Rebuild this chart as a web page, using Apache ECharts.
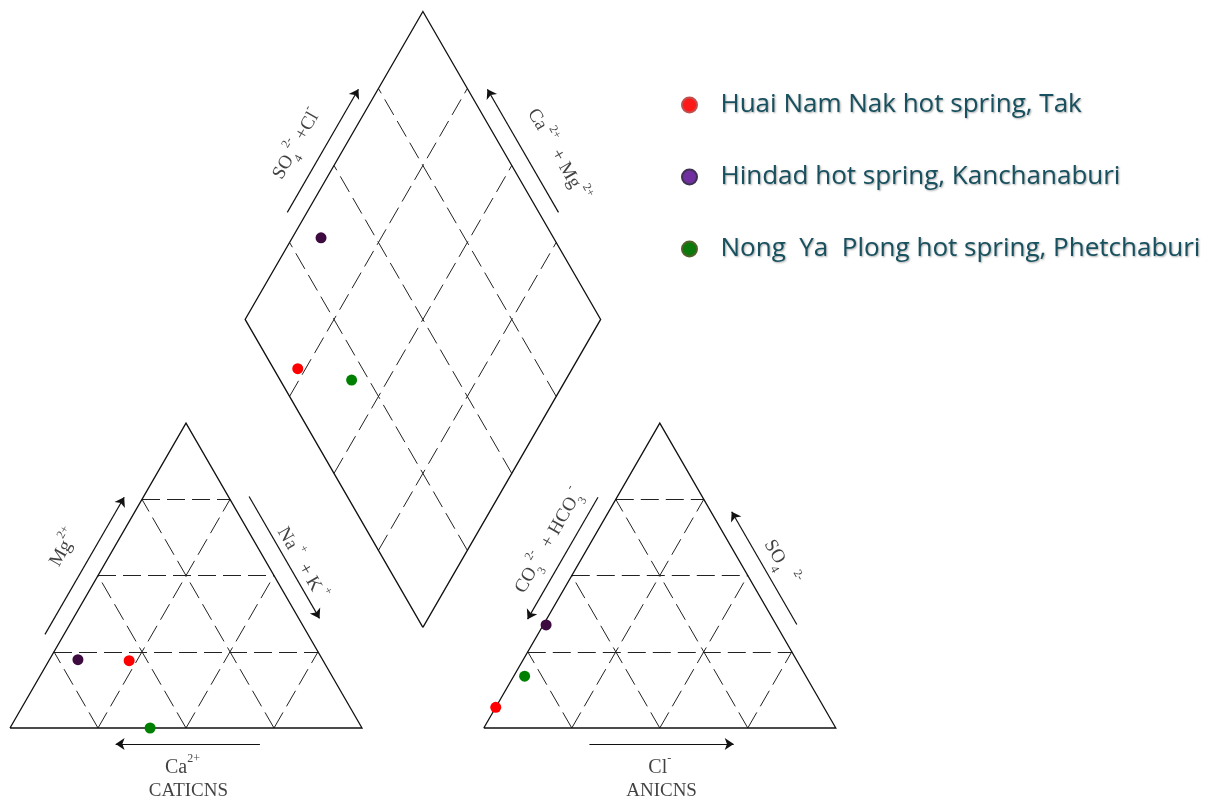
<!DOCTYPE html>
<html>
<head>
<meta charset="utf-8">
<script src="https://cdn.jsdelivr.net/npm/echarts@6/dist/echarts.min.js"></script>
<style>
  html, body { margin: 0; padding: 0; background: #ffffff; }
  #chart { width: 1215px; height: 803px; }
</style>
</head>
<body>
<div id="chart"></div>
<script>
// Sample names and ion shares (% of meq) for the Piper plot
const springs = [
  'Huai Nam Nak hot spring, Tak',
  'Hindad hot spring, Kanchanaburi',
  'Nong  Ya  Plong hot spring, Phetchaburi'
];
const caPct   = [55.1, 69.5, 60.2];
const mgPct   = [22.1, 22.4, 0.0];
const naKPct  = [22.8, 8.1, 39.8];
const hco3Pct = [93.2, 65.4, 79.9];
const so4Pct  = [6.8, 33.8, 17.0];
const clPct   = [0.0, 0.8, 3.1];
const gridTicks = [25, 50, 75];

const markerColors = ['#ff0000', '#3d0b40', '#008000'];
const legendFill   = ['#ff1a1a', '#7030a0', '#0b7a0b'];
const legendBorder = ['#c0504d', '#3f3151', '#4f6228'];

// ---- geometry (units: triangle side = 100) ----
const SQ = Math.sqrt(3) / 2;
const H = 100 * SQ;
const GAP = 34.6;
const DS = 101;                  // diamond side
const PX = 3.52;                 // pixels per unit on both axes
const X_MAX = 300, Y_MAX = 205;

const lerp = (p, q, t) => [p[0] + (q[0] - p[0]) * t, p[1] + (q[1] - p[1]) * t];
const tri = o => ({ A: o, B: [o[0] + 100, o[1]], C: [o[0] + 50, o[1] + H] });
const cat = tri([0, 0]);
const an = tri([100 + GAP, 0]);
const dB = [100 + GAP / 2, 28.6];
const dW = DS / 2, dH = DS * SQ;
const dia = { B: dB, L: [dB[0] - dW, dB[1] + dH], R: [dB[0] + dW, dB[1] + dH], T: [dB[0], dB[1] + 2 * dH] };

// point beside edge P->Q at fraction f, shifted dpx pixels to one side (+1 left, -1 right)
function beside(P, Q, f, dpx, side) {
  const dx = Q[0] - P[0], dy = Q[1] - P[1], len = Math.hypot(dx, dy);
  const b = lerp(P, Q, f), d = dpx / PX;
  return [b[0] - dy / len * side * d, b[1] + dx / len * side * d];
}

// ---- sample positions ----
const catPt = i => [cat.A[0] + naKPct[i] + mgPct[i] / 2, mgPct[i] * SQ];
const anPt  = i => [an.A[0] + clPct[i] + so4Pct[i] / 2, so4Pct[i] * SQ];
const diaPt = i => {
  const s = (so4Pct[i] + clPct[i]) / 100, c = (caPct[i] + mgPct[i]) / 100;
  return [dB[0] + dW * s - dW * c, dB[1] + dH * s + dH * c];
};

// ---- frames ----
const frames = [
  [cat.A, cat.B, cat.C, cat.A],
  [an.A, an.B, an.C, an.A],
  [dia.B, dia.R, dia.T, dia.L, dia.B]
];

// ---- dashed interior grid ----
const shift = (p, v, f) => [p[0] + v[0] * f, p[1] + v[1] * f];
const dashed = [];
[cat, an].forEach(t => {
  const up = [t.C[0] - t.A[0], t.C[1] - t.A[1]];
  const upLeft = [t.C[0] - t.B[0], t.C[1] - t.B[1]];
  gridTicks.forEach(v => {
    const f = v / 100;
    const base = lerp(t.A, t.B, f);
    dashed.push([lerp(t.A, t.C, f), lerp(t.B, t.C, f)]);
    dashed.push([base, shift(base, up, 1 - f)]);
    dashed.push([base, shift(base, upLeft, f)]);
  });
});
gridTicks.forEach(v => {
  const f = v / 100;
  dashed.push([lerp(dia.B, dia.R, f), lerp(dia.L, dia.T, f)]);
  dashed.push([lerp(dia.B, dia.L, f), lerp(dia.R, dia.T, f)]);
});

// ---- axis arrows ----
const arrow = (P, Q, f0, f1, d, side) => [beside(P, Q, f0, d, side), beside(P, Q, f1, d, side)];
const arrows = [
  arrow(cat.A, cat.C, 0.28, 0.73, 16.5, 1),   // Mg
  arrow(cat.B, cat.C, 0.73, 0.33, 18, -1),    // Na + K
  arrow(cat.A, cat.B, 0.71, 0.30, 16, -1),    // Ca
  arrow(an.A, an.C, 0.73, 0.33, 16.5, 1),     // CO3 + HCO3
  arrow(an.B, an.C, 0.31, 0.68, 18, -1),      // SO4
  arrow(an.A, an.B, 0.30, 0.71, 16, -1),      // Cl
  arrow(dia.L, dia.T, 0.32, 0.72, 17, 1),     // SO4 + Cl
  arrow(dia.R, dia.T, 0.32, 0.72, 17, -1)     // Ca + Mg
];

// ---- axis titles ----
const serif = 'Liberation Serif';
const rich = {
  b:   { fontFamily: serif, fontSize: 19, color: '#111', lineHeight: 30 },
  bb:  { fontFamily: serif, fontSize: 20, color: '#111', lineHeight: 30 },
  sup: { fontFamily: serif, fontSize: 12, color: '#111', lineHeight: 15, verticalAlign: 'top' },
  sub: { fontFamily: serif, fontSize: 12, color: '#111', lineHeight: 19, verticalAlign: 'bottom' },
  t:   { fontFamily: serif, fontSize: 19, color: '#111', lineHeight: 22 }
};
const titles = [
  { p: beside(cat.A, cat.C, 0.52, 43, 1), r: 60,  s: '{b|Mg}{sup|2+}' },
  { p: beside(cat.B, cat.C, 0.49, 30, -1), r: -60, s: '{b|Na}{sup| +}{b|  + K}{sup| +}' },
  { p: beside(cat.A, cat.B, 0.49, 40, -1), r: 0, s: '{bb|Ca}{sup|2+}' },
  { p: beside(cat.A, cat.B, 0.507, 63, -1), r: 0, s: '{t|CATICNS}' },
  { p: beside(an.A, an.C, 0.553, 37, 1), r: 60,  s: '{b|CO}{sub|3}{sup|2-}{b|  + HCO}{sub|3}{sup|-}' },
  { p: beside(an.B, an.C, 0.485, 35, -1), r: -60, s: '{b|SO}{sub|4}{sup|   2-}' },
  { p: beside(an.A, an.B, 0.50, 40, -1), r: 0, s: '{bb|Cl}{sup|-}' },
  { p: beside(an.A, an.B, 0.505, 63, -1), r: 0, s: '{t|ANICNS}' },
  { p: beside(dia.L, dia.T, 0.50, 43, 1), r: 60,  s: '{b|SO}{sub|4}{sup|2-}{b| +Cl}{sup|-}' },
  { p: beside(dia.R, dia.T, 0.46, 45, -1), r: -60, s: '{b|Ca}{sup| 2+}{b|  + Mg}{sup| 2+}' }
];

const chart = echarts.init(document.getElementById('chart'), null, { renderer: 'canvas' });

const sampleSeries = springs.map((name, i) => ({
  name,
  type: 'scatter',
  z: 5,
  clip: false,
  symbol: 'circle',
  symbolSize: 11,
  itemStyle: { color: markerColors[i], opacity: 1 },
  data: [catPt(i), anPt(i), diaPt(i)]
}));

chart.setOption({
  animation: false,
  backgroundColor: '#ffffff',
  grid: { left: 10, top: 728 - Y_MAX * PX, width: X_MAX * PX, height: Y_MAX * PX },
  xAxis: { type: 'value', min: 0, max: X_MAX, show: false },
  yAxis: { type: 'value', min: 0, max: Y_MAX, show: false },
  legend: {
    orient: 'vertical',
    left: 676,
    top: 85,
    icon: 'circle',
    itemWidth: 52,
    itemHeight: 15,
    itemGap: 42,
    selectedMode: false,
    textStyle: {
      fontFamily: 'Open Sans',
      fontSize: 26,
      lineHeight: 30,
      color: '#17505e',
      textShadowColor: 'rgba(0,0,0,0.35)',
      textShadowBlur: 2,
      textShadowOffsetX: 1,
      textShadowOffsetY: 1
    },
    data: springs.map((name, i) => ({
      name,
      itemStyle: { color: legendFill[i], borderColor: legendBorder[i], borderWidth: 2, opacity: 1 }
    }))
  },
  series: [
    {
      type: 'lines',
      coordinateSystem: 'cartesian2d',
      polyline: true,
      silent: true,
      clip: false,
      z: 2,
      lineStyle: { color: '#111', width: 1.3, opacity: 1 },
      data: frames.map(c => ({ coords: c }))
    },
    {
      type: 'lines',
      coordinateSystem: 'cartesian2d',
      silent: true,
      clip: false,
      z: 1,
      lineStyle: { color: '#222', width: 1, type: [18, 7], opacity: 1 },
      data: dashed.map(c => ({ coords: c }))
    },
    {
      type: 'lines',
      coordinateSystem: 'cartesian2d',
      silent: true,
      clip: false,
      z: 2,
      symbol: ['none', 'arrow'],
      symbolSize: 9,
      lineStyle: { color: '#111', width: 1.2, opacity: 1 },
      data: arrows.map(c => ({ coords: c }))
    },
    {
      type: 'scatter',
      silent: true,
      clip: false,
      z: 3,
      symbolSize: 0,
      data: titles.map(t => ({
        value: t.p,
        label: { show: true, position: 'inside', rotate: t.r, formatter: t.s, rich }
      }))
    },
    ...sampleSeries
  ]
});
</script>
</body>
</html>
